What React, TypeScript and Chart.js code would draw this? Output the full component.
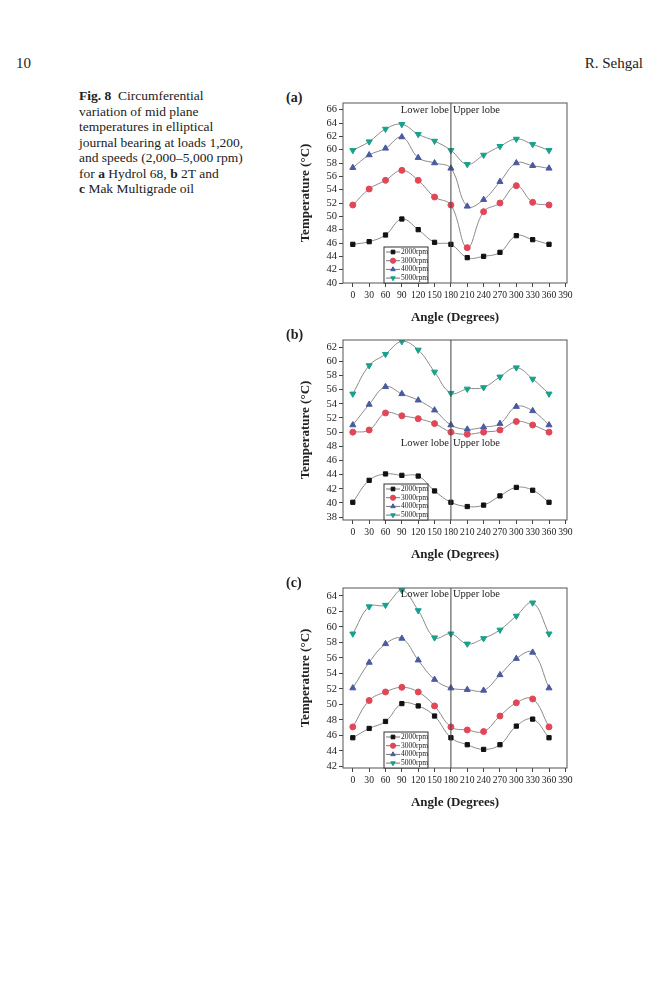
import React, { useEffect, useRef } from 'react';
import Chart from 'chart.js/auto';
import { drawPoint } from 'chart.js/helpers';

// === Data ===
const ANGLES = [0, 30, 60, 90, 120, 150, 180, 210, 240, 270, 300, 330, 360];
const X_TICKS = [0, 30, 60, 90, 120, 150, 180, 210, 240, 270, 300, 330, 360, 390];
const SERIES_LABELS = ['2000rpm', '3000rpm', '4000rpm', '5000rpm'];

const A_2000 = [45.8, 46.2, 47.2, 49.6, 48.0, 46.1, 45.8, 43.8, 44.0, 44.6, 47.1, 46.5, 45.8];
const A_3000 = [51.7, 54.1, 55.4, 56.9, 55.4, 52.9, 51.7, 45.3, 50.7, 52.0, 54.6, 52.1, 51.7];
const A_4000 = [57.3, 59.2, 60.2, 61.9, 58.8, 58.0, 57.2, 51.5, 52.5, 55.2, 58.0, 57.6, 57.2];
const A_5000 = [59.9, 61.2, 63.1, 63.8, 62.3, 61.3, 59.9, 57.8, 59.2, 60.5, 61.6, 60.8, 59.9];
const A_YTICKS = [40, 42, 44, 46, 48, 50, 52, 54, 56, 58, 60, 62, 64, 66];

const B_2000 = [40.1, 43.2, 44.1, 43.9, 43.8, 41.7, 40.1, 39.5, 39.7, 41.0, 42.2, 41.8, 40.1];
const B_3000 = [50.0, 50.3, 52.7, 52.3, 51.9, 51.2, 50.0, 49.7, 50.0, 50.3, 51.5, 51.0, 50.0];
const B_4000 = [51.0, 53.9, 56.4, 55.4, 54.5, 53.1, 51.0, 50.4, 50.7, 51.2, 53.6, 53.0, 51.0];
const B_5000 = [55.4, 59.4, 61.0, 62.8, 61.6, 58.5, 55.5, 56.1, 56.3, 57.8, 59.1, 57.5, 55.4];
const B_YTICKS = [38, 40, 42, 44, 46, 48, 50, 52, 54, 56, 58, 60, 62];

const C_2000 = [45.7, 46.9, 47.8, 50.1, 49.8, 48.5, 45.7, 44.8, 44.2, 44.8, 47.2, 48.1, 45.7];
const C_3000 = [47.1, 50.5, 51.6, 52.2, 51.6, 49.8, 47.1, 46.7, 46.5, 48.5, 50.2, 50.7, 47.1];
const C_4000 = [52.1, 55.4, 57.8, 58.5, 55.7, 53.2, 52.1, 51.9, 51.8, 53.8, 55.9, 56.7, 52.1];
const C_5000 = [59.1, 62.6, 62.8, 64.7, 62.1, 58.6, 59.1, 57.8, 58.5, 59.6, 61.4, 63.1, 59.1];
const C_YTICKS = [42, 44, 46, 48, 50, 52, 54, 56, 58, 60, 62, 64];

const STYLES = [
  { pointStyle: 'rect', color: '#111111', radius: 3, rotation: 0 },
  { pointStyle: 'circle', color: '#e0485a', radius: 3, rotation: 0 },
  { pointStyle: 'triangle', color: '#4a5aa0', radius: 3.5, rotation: 0 },
  { pointStyle: 'triangle', color: '#17a08c', radius: 3.5, rotation: 180 },
];

const SERIF = '"Liberation Serif", "DejaVu Serif", serif';

interface PanelProps {
  series: number[][];
  yTicks: number[];
  yMin: number;
  yMax: number;
  lobeY: number;
  top: number;
  label: string;
}

const Panel: React.FC<PanelProps> = ({ series, yTicks, yMin, yMax, lobeY, top, label }) => {
  const ref = useRef<HTMLCanvasElement>(null);

  useEffect(() => {
    if (!ref.current) return;
    const overlay = {
      id: 'overlay',
      afterDraw(chart: any) {
        const { ctx, chartArea: a, scales } = chart;
        ctx.save();
        ctx.strokeStyle = '#555';
        ctx.lineWidth = 1;
        ctx.strokeRect(a.left, a.top, a.right - a.left, a.bottom - a.top);
        const x180 = scales.x.getPixelForValue(180);
        ctx.strokeStyle = '#444';
        ctx.beginPath();
        ctx.moveTo(x180, a.top);
        ctx.lineTo(x180, a.bottom);
        ctx.stroke();
        ctx.fillStyle = '#222';
        ctx.font = `10.5px ${SERIF}`;
        ctx.textBaseline = 'middle';
        const ly = scales.y.getPixelForValue(lobeY);
        ctx.textAlign = 'right';
        ctx.fillText('Lower lobe', x180 - 2, ly);
        ctx.textAlign = 'left';
        ctx.fillText('Upper lobe', x180 + 2, ly);
        // legend
        const lx = a.left + 41, lh = 36, ly0 = a.bottom - lh, lw = 44;
        ctx.fillStyle = '#fff';
        ctx.fillRect(lx, ly0, lw, lh);
        ctx.strokeStyle = '#333';
        ctx.strokeRect(lx, ly0, lw, lh);
        ctx.font = `7.5px ${SERIF}`;
        SERIES_LABELS.forEach((t, i) => {
          const yy = ly0 + 5 + i * 8.7;
          ctx.strokeStyle = '#777';
          ctx.beginPath();
          ctx.moveTo(lx + 2, yy);
          ctx.lineTo(lx + 16, yy);
          ctx.stroke();
          const s = STYLES[i];
          ctx.fillStyle = s.color;
          ctx.strokeStyle = s.color;
          drawPoint(ctx, { pointStyle: s.pointStyle as any, radius: 2.6, rotation: s.rotation, borderWidth: 1 }, lx + 9, yy);
          ctx.fillStyle = '#222';
          ctx.textAlign = 'left';
          ctx.fillText(t, lx + 17, yy);
        });
        ctx.restore();
      },
    };

    const chart = new Chart(ref.current, {
      type: 'line',
      data: {
        datasets: series.map((vals, i) => ({
          label: SERIES_LABELS[i],
          data: ANGLES.map((x, j) => ({ x, y: vals[j] })),
          borderColor: '#8a8a8a',
          borderWidth: 1,
          tension: 0.4,
          pointStyle: STYLES[i].pointStyle as any,
          rotation: STYLES[i].rotation,
          pointRadius: STYLES[i].radius,
          pointBackgroundColor: STYLES[i].color,
          pointBorderColor: STYLES[i].color,
        })),
      },
      options: {
        animation: false,
        responsive: false,
        layout: { padding: { top: 15, right: 33, left: 0, bottom: 0 } },
        plugins: { legend: { display: false }, tooltip: { enabled: false } },
        scales: {
          x: {
            type: 'linear',
            min: -18,
            max: 393,
            afterBuildTicks: (s: any) => { s.ticks = X_TICKS.map(v => ({ value: v })); },
            afterFit: (s: any) => { s.height = 46; },
            grid: { drawOnChartArea: false, tickLength: 4, color: '#444' },
            border: { display: false },
            ticks: { color: '#222', font: { family: SERIF, size: 9.6 }, maxRotation: 0, autoSkip: false, padding: 3 },
            title: { display: true, text: 'Angle (Degrees)', color: '#222', font: { family: SERIF, size: 13, weight: 'bold' }, padding: { top: 6 } },
          },
          y: {
            min: yMin,
            max: yMax,
            afterBuildTicks: (s: any) => { s.ticks = yTicks.map(v => ({ value: v })); },
            afterFit: (s: any) => { s.width = 45; },
            grid: { drawOnChartArea: false, tickLength: 4, color: '#444' },
            border: { display: false },
            ticks: { color: '#222', font: { family: SERIF, size: 10.5 }, autoSkip: false, padding: 2 },
            title: { display: true, text: 'Temperature (°C)', color: '#222', font: { family: SERIF, size: 13, weight: 'bold' }, padding: 0 },
          },
        },
      },
      plugins: [overlay],
    });
    return () => chart.destroy();
  }, [series, yTicks, yMin, yMax, lobeY]);

  return (
    <>
      <div style={{ position: 'absolute', left: 286, top: top + 2, fontFamily: SERIF, fontWeight: 'bold', fontSize: 14 }}>{label}</div>
      <canvas ref={ref} width={302} height={241} style={{ position: 'absolute', left: 298, top: top }} />
    </>
  );
};

const CAPTION = [
  <><b>Fig. 8</b>&nbsp;&nbsp;Circumferential</>,
  <>variation of mid plane</>,
  <>temperatures in elliptical</>,
  <>journal bearing at loads 1,200,</>,
  <>and speeds (2,000–5,000 rpm)</>,
  <>for <b>a</b> Hydrol 68, <b>b</b> 2T and</>,
  <><b>c</b> Mak Multigrade oil</>,
];

export default function App() {
  return (
    <div style={{ position: 'absolute', left: 0, top: 0, width: 659, height: 1000, background: '#fff', fontFamily: SERIF, color: '#222' }}>
      <div style={{ position: 'absolute', left: 16, top: 55, fontSize: 15 }}>10</div>
      <div style={{ position: 'absolute', right: 16, top: 55, fontSize: 15 }}>R. Sehgal</div>
      <div style={{ position: 'absolute', left: 79, top: 88, fontSize: 13.5, lineHeight: '15.5px' }}>
        {CAPTION.map((c, i) => <div key={i}>{c}</div>)}
      </div>
      <Panel series={[A_2000, A_3000, A_4000, A_5000]} yTicks={A_YTICKS} yMin={40} yMax={67} lobeY={65.9} top={88} label="(a)" />
      <Panel series={[B_2000, B_3000, B_4000, B_5000]} yTicks={B_YTICKS} yMin={37.6} yMax={63} lobeY={48.4} top={325} label="(b)" />
      <Panel series={[C_2000, C_3000, C_4000, C_5000]} yTicks={C_YTICKS} yMin={41.8} yMax={65} lobeY={64.2} top={573} label="(c)" />
    </div>
  );
}
